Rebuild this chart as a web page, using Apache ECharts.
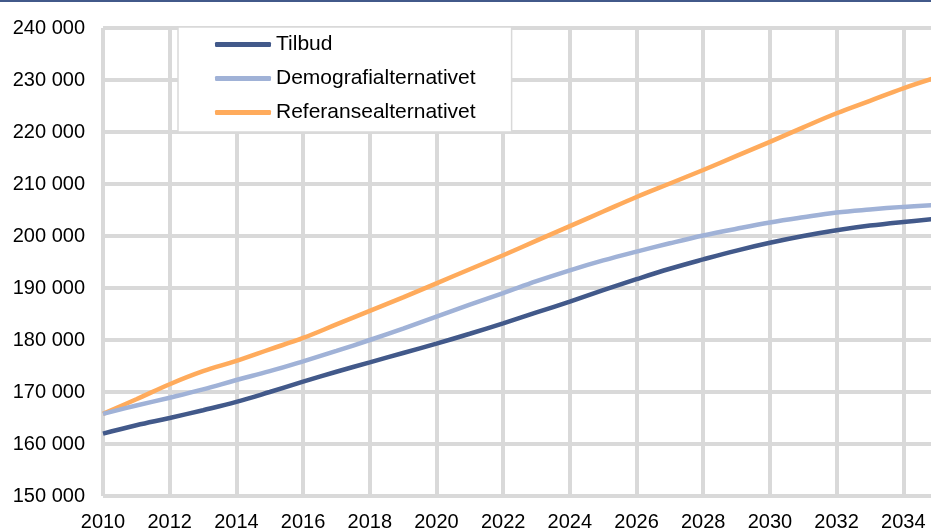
<!DOCTYPE html>
<html>
<head>
<meta charset="utf-8">
<script src="https://cdn.jsdelivr.net/npm/echarts@6/dist/echarts.min.js"></script>
<style>
  html, body { margin: 0; padding: 0; background: #fff; }
  #chart { width: 931px; height: 530px; }
</style>
</head>
<body>
<div id="chart"></div>
<script>
const years = [2010, 2011, 2012, 2013, 2014, 2015, 2016, 2017, 2018, 2019, 2020, 2021, 2022,
  2023, 2024, 2025, 2026, 2027, 2028, 2029, 2030, 2031, 2032, 2033, 2034, 2035]

const tilbud = [162000, 163600, 165000, 166500, 168100, 170000, 172000, 173900, 175700, 177500,
  179300, 181200, 183200, 185300, 187400, 189600, 191700, 193700, 195500, 197200,
  198700, 200000, 201100, 202000, 202700, 203300]

const demografi = [165800, 167400, 168900, 170500, 172300, 174000, 175900, 177900, 180000, 182200,
  184500, 186800, 189000, 191300, 193400, 195300, 197000, 198600, 200100, 201400,
  202600, 203600, 204500, 205100, 205600, 206000]

const referanse = [165800, 168600, 171500, 174000, 176000, 178200, 180400, 183000, 185600, 188200,
  190900, 193600, 196300, 199100, 201900, 204700, 207500, 210100, 212700, 215400,
  218100, 220900, 223600, 226000, 228400, 230500]

const seriesNames = ['Tilbud', 'Demografialternativet', 'Referansealternativet']
const seriesColors = ['#42598a', '#a0b2d7', '#ffab5c']

function pairs(values) {
  return years.map((y, i) => [y, values[i]])
}

function spaced(v) {
  return String(v).replace(/\B(?=(\d{3})+(?!\d))/g, ' ')
}

const chart = echarts.init(document.getElementById('chart'), null, { renderer: 'canvas' })

const option = {
  animation: false,
  textStyle: { fontFamily: '"Liberation Sans", Arial, sans-serif' },
  graphic: [
    {
      type: 'rect',
      left: 0,
      top: 0,
      shape: { width: 931, height: 2 },
      style: { fill: '#42598a' }
    }
  ],
  grid: {
    left: 103,
    top: 28,
    bottom: 34,
    width: 867,
    outerBoundsMode: 'none'
  },
  legend: {
    orient: 'vertical',
    left: 178,
    top: 27,
    padding: [7, 36, 9, 37],
    itemGap: 13,
    itemWidth: 56,
    itemHeight: 5,
    icon: 'roundRect',
    backgroundColor: '#fff',
    borderColor: '#d9d9d9',
    borderWidth: 1.5,
    textStyle: { fontSize: 21, color: '#000', fontFamily: '"Liberation Sans", Arial, sans-serif' },
    data: seriesNames
  },
  xAxis: {
    type: 'value',
    min: 2010,
    max: 2036,
    interval: 2,
    axisLine: { show: false },
    axisTick: { show: false },
    axisLabel: { fontSize: 20, color: '#000', margin: 16, formatter: v => String(v) },
    splitLine: { show: true, lineStyle: { color: '#d9d9d9', width: 4 } }
  },
  yAxis: {
    type: 'value',
    min: 150000,
    max: 240000,
    interval: 10000,
    axisLine: { show: false },
    axisTick: { show: false },
    axisLabel: { fontSize: 20, color: '#000', margin: 18, formatter: spaced },
    splitLine: { show: true, lineStyle: { color: '#d9d9d9', width: 4 } }
  },
  series: [
    {
      name: seriesNames[0],
      type: 'line',
      smooth: 0.4,
      showSymbol: false,
      color: seriesColors[0],
      lineStyle: { width: 4.5 },
      z: 4,
      data: pairs(tilbud)
    },
    {
      name: seriesNames[1],
      type: 'line',
      smooth: 0.4,
      showSymbol: false,
      color: seriesColors[1],
      lineStyle: { width: 4.5 },
      z: 3,
      data: pairs(demografi)
    },
    {
      name: seriesNames[2],
      type: 'line',
      smooth: 0.4,
      showSymbol: false,
      color: seriesColors[2],
      lineStyle: { width: 4.5 },
      z: 2,
      data: pairs(referanse)
    }
  ]
}

chart.setOption(option)
</script>
</body>
</html>
